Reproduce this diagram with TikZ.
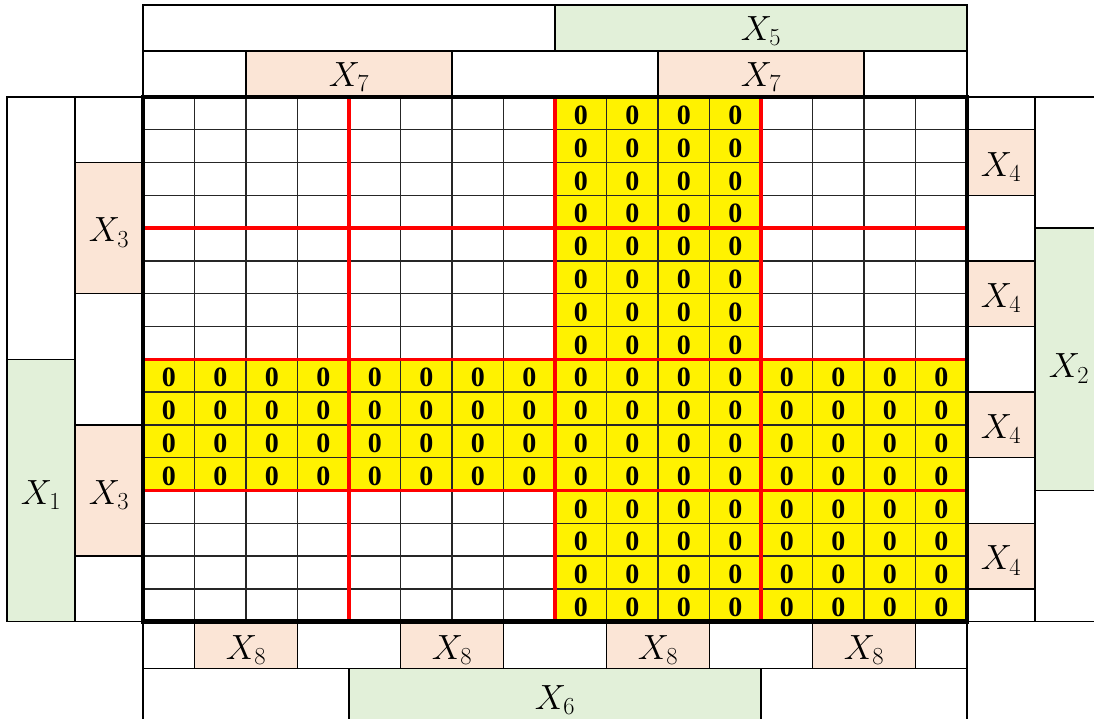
\RequirePackage{fix-cm}
\documentclass[tikz,border=0pt]{standalone}
\usepackage{fontspec}
\newfontfamily\zerofont{Liberation Serif}
\usepackage{amsmath}
\usetikzlibrary{positioning}

\definecolor{peach}{HTML}{FBE5D6}
\definecolor{sage}{HTML}{E2F0D9}

\tikzset{
  hbox/.style={draw=black, line width=1.4pt},
  varbox/.style={hbox, fill=peach},
  halfbox/.style={hbox, fill=sage},
  varlabel/.style={inner sep=0pt, text depth=0pt, font=\fontsize{35}{38}\selectfont},
  zero/.style={inner sep=0pt, yshift=-2pt, font=\zerofont\bfseries\fontsize{28}{30}\selectfont},
  cellline/.style={black!85, line width=1.4pt},
  redline/.style={red, line width=3.6pt},
  frame/.style={black, line width=4.8pt}
}

\begin{document}
\begin{tikzpicture}[x=51.5pt, y=-32.8pt]
    \clip (-2.777,-2.957) rectangle (18.466,18.963);

    % top rows
    \foreach \a/\b/\s in {0/8/hbox, 8/16/halfbox}
        \draw[\s] (\a,-2.8) rectangle (\b,-1.4);
    \foreach \a/\b/\s in {0/2/hbox, 2/6/varbox, 6/10/hbox, 10/14/varbox, 14/16/hbox}
        \draw[\s] (\a,-1.4) rectangle (\b,0);

    % left columns
    \foreach \a/\b/\s in {0/8/hbox, 8/16/halfbox}
        \draw[\s] (-2.64,\a) rectangle (-1.32,\b);
    \foreach \a/\b/\s in {0/2/hbox, 2/6/varbox, 6/10/hbox, 10/14/varbox, 14/16/hbox}
        \draw[\s] (-1.32,\a) rectangle (0,\b);

    % right columns
    \foreach \a/\b/\s in {0/1/hbox, 1/3/varbox, 3/5/hbox, 5/7/varbox, 7/9/hbox, 9/11/varbox, 11/13/hbox, 13/15/varbox, 15/16/hbox}
        \draw[\s] (16,\a) rectangle (17.32,\b);
    \foreach \a/\b/\s in {0/4/hbox, 4/12/halfbox, 12/16/hbox}
        \draw[\s] (17.32,\a) rectangle (18.9,\b);

    % bottom rows
    \foreach \a/\b/\s in {0/1/hbox, 1/3/varbox, 3/5/hbox, 5/7/varbox, 7/9/hbox, 9/11/varbox, 11/13/hbox, 13/15/varbox, 15/16/hbox}
        \draw[\s] (\a,16) rectangle (\b,17.43);
    \foreach \a/\b/\s in {0/4/hbox, 4/12/halfbox, 12/16/hbox}
        \draw[\s] (\a,17.43) rectangle (\b,19.3);

    % variable names
    \node[varlabel] (x5) at (12,-2.08) {$X_5$};
    \node[varlabel] (x7a) at (4,-0.68) {$X_7$};
    \node[varlabel] (x7b) at (12,-0.68) {$X_7$};
    \node[varlabel] (x1) at (-1.98,12.05) {$X_1$};
    \node[varlabel] (x3a) at (-0.66,4.05) {$X_3$};
    \node[varlabel] (x3b) at (-0.66,12.05) {$X_3$};
    \node[varlabel] (x4a) at (16.66,2.05) {$X_4$};
    \node[varlabel] (x4b) at (16.66,6.05) {$X_4$};
    \node[varlabel] (x4c) at (16.66,10.05) {$X_4$};
    \node[varlabel] (x4d) at (16.66,14.05) {$X_4$};
    \node[varlabel] (x2) at (17.98,8.2) {$X_2$};
    \node[varlabel] (x8a) at (2,16.78) {$X_8$};
    \node[varlabel] (x8b) at (6,16.78) {$X_8$};
    \node[varlabel] (x8c) at (10,16.78) {$X_8$};
    \node[varlabel] (x8d) at (14,16.78) {$X_8$};
    \node[varlabel] (x6) at (8,18.3) {$X_6$};

    % yellow zeros
    \fill[yellow] (8,0) rectangle (12,16);
    \fill[yellow] (0,8) rectangle (16,12);
    \fill[yellow] (12,12) rectangle (16,16);
    \foreach \r in {0,...,15}
        \foreach \c in {8,...,11}
            \node[zero] at (\c+0.5,\r+0.5) {0};
    \foreach \r in {8,...,11}
        \foreach \c in {0,...,7,12,13,14,15}
            \node[zero] at (\c+0.5,\r+0.5) {0};
    \foreach \r in {12,...,15}
        \foreach \c in {12,...,15}
            \node[zero] at (\c+0.5,\r+0.5) {0};

    % grid
    \foreach \i in {1,...,15} {
        \draw[cellline] (\i,0) -- (\i,16);
        \draw[cellline] (0,\i) -- (16,\i);
    }
    \foreach \i in {4,8,12} {
        \draw[redline] (\i,0) -- (\i,16);
        \draw[redline] (0,\i) -- (16,\i);
    }
    \draw[frame] (0,0) rectangle (16,16);
\end{tikzpicture}
\end{document}
